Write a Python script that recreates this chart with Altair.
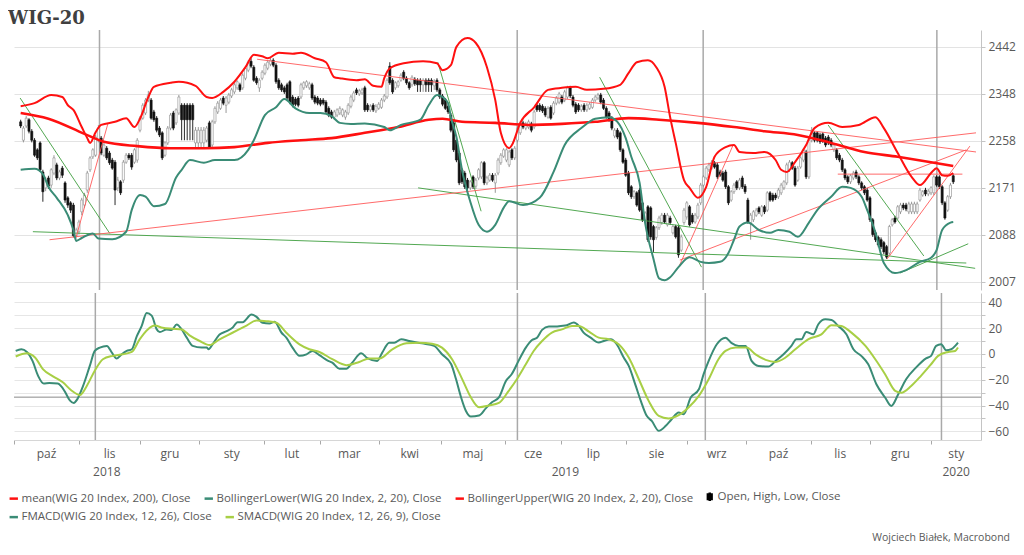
import altair as alt
import pandas as pd

# ---------------- data ----------------
# daily (weekday) candles, first day = 2018-10-01
OPEN = [
    2294,2259,2286,2298,2276,2259,2241,2254,2200,2171,2189,2176,2198,2213,2189,2207,2180,2153,2144,2140,2086,2093,2128,
    2140,2167,2204,2228,2231,2259,2263,2231,2244,2235,2222,2218,2171,2182,2185,2218,2231,2231,2218,2222,2278,2301,
    2311,2336,2336,2313,2301,2282,2273,2231,2254,2282,2311,2292,2311,2326,2326,2326,2326,2326,2254,2254,2254,
    2254,2259,2292,2250,2294,2313,2320,2340,2326,2332,2344,2352,2360,2366,2360,2379,2395,2413,2401,2379,2360,2379,2389,
    2399,2407,2415,2405,2375,2366,2360,2366,2372,2342,2338,2340,2342,2360,2364,2360,2366,2342,2340,2336,
    2336,2332,2320,2313,2303,2307,2311,2307,2303,2311,2324,2336,2356,2348,2350,2360,2326,2317,2326,2315,2320,
    2322,2336,2342,2403,2375,2360,2364,2375,2391,2379,2370,2366,2377,2375,2375,2366,2375,2375,2375,2364,2375,2356,
    2344,2336,2324,2307,2292,2259,2235,2204,2198,2185,2171,2191,2174,2189,2191,2217,2180,2185,2194,2180,2198,2217,2229,
    2222,2213,2241,2226,2259,2273,2292,2282,2284,2290,2284,2326,2326,2324,2320,2303,2322,2311,2330,2332,
    2342,2336,2342,2360,2342,2328,2326,2317,2326,2317,2320,2322,2336,2340,2346,2336,2320,2311,2301,2267,2278,2273,2241,
    2222,2198,2173,2155,2162,2167,2144,2114,2137,2135,2102,2083,2100,2109,2122,2105,2117,2091,2102,2100,2061,2109,
    2119,2137,2122,2110,2119,2144,2176,2189,2204,2207,2217,2213,2200,2198,2200,2173,2149,2164,2182,2171,2189,
    2174,2149,2109,2114,2122,2135,2122,2137,2131,2162,2158,2158,2155,2162,2171,2180,2204,2217,2207,2185,2209,2222,2237,
    2191,2259,2273,2273,2269,2271,2263,2265,2259,2241,2241,2231,2222,2204,2191,2182,2189,2200,2191,2180,2173,
    2167,2153,2114,2091,2083,2079,2074,2067,2056,2105,2117,2117,2128,2140,2140,2128,2128,2128,2128,2149,2158,2167,
    2160,2162,2162,2191,2191,2173,2144,2131,2155,2193,
]
CLOSE = [
    2286,2282,2301,2276,2259,2231,2226,2204,2164,2185,2174,2204,2226,2189,2200,2194,2149,2140,2131,2086,2096,2110,2149,
    2158,2198,2226,2241,2265,2282,2235,2250,2226,2217,2207,2167,2185,2162,2218,2231,2226,2209,2241,2259,2301,2326,
    2336,2346,2301,2298,2278,2269,2226,2254,2282,2307,2282,2317,2342,2298,2298,2298,2298,2298,2278,2278,2278,
    2278,2282,2246,2294,2320,2330,2336,2330,2340,2346,2356,2366,2372,2356,2385,2399,2411,2403,2375,2370,2375,2391,2405,
    2411,2415,2405,2372,2360,2356,2352,2340,2332,2326,2328,2326,2366,2370,2372,2368,2340,2332,2330,2328,
    2330,2313,2307,2303,2313,2317,2320,2317,2313,2326,2342,2350,2350,2354,2356,2317,2317,2324,2317,2324,2328,
    2336,2344,2375,2370,2352,2370,2372,2385,2379,2370,2360,2381,2368,2366,2366,2375,2366,2366,2366,2373,2356,2342,
    2328,2320,2313,2278,2241,2222,2180,2182,2173,2171,2182,2173,2185,2204,2217,2180,2189,2194,2185,2194,2222,2231,2241,
    2241,2237,2226,2244,2282,2292,2284,2290,2294,2278,2313,2317,2317,2315,2307,2320,2301,2330,2340,2348,
    2332,2352,2360,2344,2326,2313,2317,2324,2317,2326,2328,2336,2342,2346,2332,2320,2303,2298,2282,2278,2265,2241,2218,
    2194,2162,2155,2164,2140,2131,2114,2126,2079,2084,2079,2100,2117,2122,2110,2122,2109,2102,2084,2053,2084,2131,
    2144,2105,2110,2122,2140,2176,2191,2207,2213,2218,2209,2191,2194,2185,2173,2144,2164,2176,2171,2185,2173,
    2164,2110,2122,2128,2131,2128,2137,2128,2162,2149,2149,2153,2167,2176,2182,2213,2218,2207,2176,2207,2226,2241,2191,
    2259,2278,2259,2259,2256,2257,2250,2254,2250,2250,2226,2222,2204,2189,2182,2193,2198,2191,2180,2171,2162,
    2149,2114,2088,2079,2070,2067,2058,2049,2102,2114,2110,2137,2140,2135,2133,2142,2142,2142,2142,2167,2164,2160,
    2165,2171,2191,2176,2173,2144,2117,2155,2176,2182,
]
HIGH = [
    2298,2286,2305,2301,2280,2263,2244,2257,2204,2191,2193,2207,2231,2217,2204,2211,2183,2156,2147,2144,2100,2114,2153,
    2162,2202,2229,2244,2269,2288,2267,2254,2248,2239,2226,2222,2191,2185,2222,2235,2235,2235,2244,2263,2305,2330,
    2340,2354,2340,2317,2305,2286,2276,2257,2286,2311,2315,2320,2346,2330,2330,2330,2330,2330,2284,2284,2284,
    2284,2286,2296,2298,2324,2334,2340,2344,2344,2350,2360,2370,2375,2370,2389,2403,2415,2419,2405,2383,2379,2395,2409,
    2415,2421,2419,2409,2379,2370,2364,2370,2375,2346,2342,2344,2370,2373,2375,2372,2370,2346,2344,2340,
    2340,2336,2324,2317,2317,2320,2324,2320,2317,2330,2346,2354,2360,2358,2360,2364,2330,2328,2330,2328,2332,
    2340,2348,2379,2411,2379,2373,2375,2389,2395,2383,2373,2385,2381,2379,2379,2379,2379,2379,2379,2377,2379,2360,
    2348,2340,2328,2311,2296,2263,2239,2207,2202,2189,2185,2194,2189,2207,2220,2220,2193,2198,2198,2198,2226,2235,2244,
    2244,2241,2244,2248,2286,2296,2296,2294,2298,2294,2317,2330,2330,2328,2324,2324,2326,2334,2344,2352,
    2346,2356,2364,2364,2346,2332,2330,2328,2330,2330,2332,2340,2346,2350,2350,2340,2324,2315,2305,2282,2282,2276,2244,
    2226,2202,2176,2167,2165,2171,2147,2129,2140,2138,2105,2103,2121,2126,2126,2126,2121,2105,2105,2103,2088,2135,
    2147,2140,2126,2126,2144,2180,2194,2211,2217,2222,2220,2217,2204,2202,2204,2176,2167,2180,2185,2189,2193,
    2178,2153,2126,2131,2135,2138,2140,2140,2165,2165,2162,2162,2171,2180,2185,2217,2222,2220,2211,2211,2229,2244,2241,
    2263,2284,2276,2276,2273,2274,2267,2269,2263,2254,2244,2235,2226,2207,2194,2196,2202,2204,2194,2183,2176,
    2171,2156,2117,2095,2086,2083,2077,2070,2105,2117,2121,2140,2144,2144,2144,2146,2146,2146,2146,2171,2167,2171,
    2169,2174,2194,2194,2194,2176,2147,2158,2180,2196,
]
LOW = [
    2282,2255,2282,2272,2255,2228,2222,2200,2146,2165,2169,2171,2194,2185,2185,2189,2144,2135,2126,2083,2081,2088,2122,
    2135,2162,2200,2224,2228,2255,2231,2228,2222,2213,2204,2140,2165,2158,2180,2215,2222,2204,2215,2217,2274,2298,
    2307,2332,2298,2294,2274,2265,2222,2228,2250,2278,2278,2288,2307,2259,2259,2259,2259,2259,2246,2246,2246,
    2246,2255,2243,2246,2290,2309,2317,2326,2311,2328,2340,2348,2356,2352,2356,2375,2391,2399,2372,2366,2352,2375,2385,
    2395,2403,2401,2368,2356,2352,2348,2336,2328,2322,2324,2322,2338,2356,2360,2356,2336,2328,2326,2324,
    2326,2309,2303,2300,2298,2303,2307,2303,2298,2307,2320,2332,2346,2344,2346,2313,2313,2313,2313,2311,2317,
    2319,2332,2338,2366,2348,2356,2360,2372,2375,2366,2356,2362,2364,2352,2352,2352,2352,2352,2352,2356,2352,2338,
    2324,2317,2309,2274,2237,2218,2176,2178,2169,2165,2167,2169,2169,2185,2187,2176,2176,2182,2182,2162,2194,2213,2226,
    2218,2209,2222,2222,2255,2269,2280,2278,2280,2274,2280,2313,2313,2311,2303,2300,2298,2307,2326,2328,
    2328,2332,2338,2340,2322,2309,2313,2313,2313,2313,2317,2319,2332,2336,2328,2317,2300,2294,2278,2263,2261,2237,2215,
    2191,2158,2151,2151,2137,2128,2110,2110,2075,2079,2058,2079,2096,2105,2107,2102,2105,2088,2081,2048,2058,2105,
    2114,2102,2107,2107,2115,2140,2173,2185,2200,2204,2206,2187,2191,2182,2169,2140,2146,2160,2167,2167,2169,
    2160,2107,2079,2110,2119,2124,2119,2124,2128,2146,2146,2149,2151,2158,2167,2176,2200,2204,2173,2182,2206,2218,2187,
    2187,2255,2255,2255,2252,2254,2246,2250,2246,2237,2222,2218,2200,2185,2178,2178,2185,2187,2176,2167,2158,
    2146,2110,2084,2075,2066,2063,2054,2046,2053,2102,2107,2114,2124,2131,2129,2124,2124,2124,2124,2146,2155,2156,
    2156,2158,2158,2173,2169,2140,2114,2128,2151,2178,
]

# indicator lines (weekday index, value)
MEAN_DAY = [0, 10, 23, 30, 42, 54, 66, 77, 89, 101, 112, 124, 136, 147, 152, 159, 171, 183, 195, 207,
            219, 230, 244, 257, 268, 280, 292, 304, 316, 328, 336]
MEAN_VAL = [2311, 2300, 2271, 2256, 2248, 2244, 2244, 2246, 2254, 2259, 2263, 2273, 2284, 2298, 2300, 2294,
            2292, 2288, 2290, 2294, 2301, 2298, 2292, 2284, 2276, 2269, 2254, 2237, 2228, 2218, 2211]

UPPER_DAY = [0, 5, 11, 15, 17, 19, 22, 24, 25, 27, 29, 34, 38, 41, 43, 46, 48, 54, 57, 63, 67, 69, 73, 77,
             81, 84, 87, 89, 93, 98, 101, 106, 110, 113, 115, 121, 124, 127, 130, 131, 133, 138, 145, 150,
             152, 155, 157, 161, 164, 168, 171, 173, 176, 177, 180, 185, 190, 195, 200, 204, 210, 216, 219,
             222, 226, 229, 232, 234, 236, 239, 241, 244, 247, 250, 254, 257, 259, 264, 268, 272, 274, 276,
             279, 283, 286, 291, 296, 302, 308, 311, 316, 321, 324, 328, 330, 332, 334, 336]
UPPER_VAL = [2324, 2330, 2346, 2342, 2326, 2317, 2284, 2263, 2254, 2274, 2288, 2294, 2301, 2284, 2300, 2342,
             2362, 2370, 2372, 2364, 2342, 2340, 2352, 2372, 2401, 2426, 2423, 2419, 2430, 2428, 2430, 2419,
             2411, 2381, 2379, 2375, 2377, 2364, 2362, 2379, 2399, 2409, 2413, 2409, 2395, 2405, 2442, 2460,
             2450, 2401, 2336, 2273, 2244, 2250, 2292, 2322, 2356, 2360, 2362, 2356, 2358, 2366, 2389, 2411,
             2415, 2401, 2362, 2303, 2254, 2185, 2171, 2153, 2173, 2228, 2246, 2250, 2237, 2235, 2237, 2222,
             2204, 2200, 2218, 2250, 2282, 2292, 2284, 2288, 2303, 2282, 2235, 2191, 2176, 2198, 2207, 2194,
             2193, 2198]

LOWER_DAY = [0, 5, 8, 10, 13, 17, 19, 20, 22, 26, 28, 33, 38, 40, 43, 45, 48, 52, 56, 58, 61, 66, 70, 77,
             82, 84, 88, 92, 95, 99, 104, 108, 112, 115, 119, 124, 131, 133, 137, 144, 147, 150, 152, 154,
             155, 157, 159, 162, 165, 168, 171, 174, 176, 181, 187, 192, 196, 202, 207, 212, 215, 218, 220,
             223, 225, 228, 230, 232, 234, 237, 241, 245, 248, 252, 255, 257, 259, 262, 266, 270, 273, 277,
             280, 284, 287, 292, 296, 299, 303, 305, 308, 311, 315, 319, 324, 328, 330, 332, 335, 336]
LOWER_VAL = [2204, 2206, 2196, 2173, 2153, 2122, 2096, 2077, 2082, 2090, 2081, 2080, 2093, 2131, 2158, 2155,
             2138, 2142, 2190, 2204, 2222, 2217, 2222, 2222, 2241, 2259, 2307, 2322, 2338, 2320, 2311, 2311,
             2305, 2292, 2290, 2291, 2284, 2278, 2288, 2298, 2326, 2346, 2342, 2330, 2303, 2265, 2204, 2146,
             2105, 2093, 2105, 2135, 2147, 2140, 2153, 2200, 2250, 2282, 2300, 2303, 2294, 2263, 2228, 2180,
             2108, 2046, 2013, 2010, 2015, 2032, 2049, 2041, 2039, 2041, 2056, 2079, 2102, 2109, 2096, 2091,
             2096, 2093, 2084, 2109, 2131, 2155, 2173, 2171, 2155, 2131, 2091, 2039, 2022, 2027, 2041, 2048,
             2061, 2096, 2109, 2110]

# trend lines: start day, start value, end day, end value
RED_D1 = [10.4, 85.2, 20.0, 237.1, 237.5, 312.2, 294.4]
RED_V1 = [2079, 2417, 2084, 2032, 2044, 2046, 2196]
RED_D2 = [344.2, 344.2, 31.4, 256.7, 340.7, 342.0, 339.3]
RED_V2 = [2273, 2237, 2290, 2250, 2241, 2248, 2196]
GRN_D1 = [-0.2, 4.4, 143.2, 150.3, 208.6, 290.9, 316.8]
GRN_V1 = [2340, 2093, 2171, 2411, 2381, 2288, 2022]
GRN_D2 = [32.1, 340.7, 343.9, 165.9, 245.3, 325.4, 341.4]
GRN_V2 = [2090, 2039, 2030, 2129, 2032, 2051, 2072]

VLINE_DAY = [28.4, 178.9, 245.9, 330.1]

FMACD_DAY = [0, 2, 4, 6, 8, 10, 12, 15, 17.5, 19.3, 20.7, 22, 24, 26.4, 28.2, 30, 32.5, 34.3, 36, 37.8, 39.6,
             41.4, 43.2, 44.9, 46.7, 48.5, 50.3, 51.4, 53.8, 55.6, 57.4, 59.2, 61, 63.1, 66.3, 68.1, 68.8, 70.2,
             72.7, 75.2, 77.3, 79.1, 80.9, 84.1, 85.9, 88, 90.5, 92.3, 94.8, 96.5, 98.7, 101.2, 103.7, 105.8,
             108.3, 111.1, 112.9, 115.4, 117.9, 120, 123.2, 125.4, 128.9, 130.7, 133.2, 135, 137.5, 140.3,
             144.9, 149.2, 152, 155.3, 157, 158.8, 160.5, 162.3, 165.2, 167.7, 169.8, 172.3, 174.8, 176.9,
             179.4, 181.9, 184.1, 185.9, 187.7, 190.1, 192.6, 194.4, 196.5, 199, 200.8, 202.5, 205, 207.9,
             209.7, 212.2, 214.3, 216.8, 218.6, 221.1, 222.9, 225, 226.8, 229.3, 231.8, 233.9, 236.4, 238.2,
             240.7, 243.6, 245.3, 247.1, 250, 253.1, 255.3, 257.8, 260.3, 262.4, 264.9, 268.4, 271, 273.8,
             276.6, 278.4, 280.2, 281.9, 284.4, 286.2, 288.7, 290.9, 293.3, 296.2, 298.7, 301.5, 304, 306.9,
             310, 312.2, 314.7, 317.5, 321, 324.6, 326.4, 328.2, 330, 331.8, 333.6, 335, 336]
FMACD_VAL = [2.3, 3.6, 1.5, -5.4, -17, -23, -22.6, -23, -29, -36, -38, -35, -25, -9.5, 2.3, 4.9, 6.2, 1, -3.6,
             -0.3, 2.3, 3.6, 13.8, 21.5, 31.8, 29.7, 19, 16.9, 19, 18.5, 22.8, 19, 12.6, 6.2, 4.9, 4.9, 3.6, 7.4,
             15, 17.6, 20.2, 24.6, 24.6, 30.5, 28.7, 24.1, 23.6, 24.9, 16.4, 12.6, 4.9, -1.5, -0.3, 2.3, -1, -5,
             -6.8, -11.4, -11.4, -6.8, 0.5, -3.3, -5.4, 1, 8.7, 8.7, 11.3, 10, 8.2, 6.2, -0.3, -8, -19.5, -33.6,
             -44, -48.5, -47.7, -42, -37.4, -33.7, -21, -15.6, -5, 4.9, 10.8, 12.6, 18.6, 21.2, 21.2, 21.7, 22.2,
             24.3, 21.7, 16.5, 12.6, 8.8, 10, 11.4, 7.5, -2.8, -9.3, -24.8, -36.4, -48, -51.9, -59.6, -55.7,
             -50.6, -45.4, -46.7, -33.8, -27.4, -15.7, -5.4, 7.5, 12.6, 8.3, 6.2, 6.2, -5.4, -9.3, -9.8, -5.4,
             -0.3, 6.2, 11.4, 11.4, 17, 15.2, 23, 26.8, 26.3, 21.7, 15.2, 3.6, -1.5, -8, -23.5, -33.8, -40.3,
             -31.2, -19.6, -10.6, -3.4, -1.5, 6.2, 7.5, 2.8, 3.6, 6.2, 8.8]
SMACD_DAY = [0, 4, 6.9, 9.7, 13.3, 16.8, 20, 22.9, 25.4, 28.2, 31.1, 34.6, 38.2, 41.4, 44.2, 47.1, 49.6, 52.4,
             56, 59.2, 62, 65.6, 69.1, 72.7, 77.3, 82.3, 85.9, 89.4, 93, 96.5, 101.2, 104.7, 108.3, 112.9, 117.9,
             122.5, 126.1, 129.7, 134.3, 139.3, 143.9, 148.5, 152, 155.6, 159.2, 162.3, 165.2, 168.7, 172.3,
             175.8, 178.7, 181.9, 184.7, 187.7, 191.2, 194.8, 198.4, 200.8, 204.4, 207.9, 211.4, 215, 218.6,
             222.2, 225.7, 229.3, 232.8, 236.4, 239.9, 243.6, 247.1, 250.6, 253.1, 256.7, 260.6, 263.8, 267.4,
             271, 274.5, 278, 282.7, 287.3, 290.9, 294.4, 298, 303, 306.5, 310, 313.6, 315.8, 319.3, 322.8,
             326.4, 328.9, 332.5, 335, 336]
SMACD_VAL = [-2, 0.5, -2.8, -11.8, -17.4, -22, -28.5, -31.8, -24.6, -13, -4.1, -1.5, -0.3, 1.5, 11.3, 19, 22,
             20.2, 19.5, 19, 14.4, 10, 6.9, 11.3, 16.4, 22, 25.9, 25.4, 24.1, 16.4, 7.4, 3.6, 1.5, -4.1, -8.7,
             -6.2, -3.6, -3.6, 3.6, 8.2, 8.7, 7.9, 4.9, -4.1, -19.5, -33.6, -41.3, -40, -38, -28.6, -19.6, -8,
             2.3, 10, 16.5, 19, 21.7, 21.7, 17.3, 12.6, 11.4, 7.5, -2.8, -19.6, -36.4, -48, -50, -47.5, -41.5,
             -32.5, -19.6, -4.1, 2.3, 4.9, 4.9, -0.3, -4.6, -6.2, -2.8, 3.6, 11.4, 15.2, 22.2, 21.7, 16.5, 6.2,
             -4.1, -15.7, -28.6, -30, -24.8, -17, -8, -1.5, 1.5, 2.3, 4.9]
MACD_REF = -33.5

Y_TICKS = [2007, 2088, 2171, 2258, 2348, 2442]
MACD_TICKS = [-60, -50, -40, -30, -20, -10, 0, 10, 20, 30, 40]
MONTH_START = [0, 23, 45, 66, 89, 109, 130, 152, 175, 195, 218, 240, 261, 284, 305, 327]
MONTH_NAMES = ["paź", "lis", "gru", "sty", "lut", "mar", "kwi", "maj", "cze", "lip", "sie", "wrz",
               "paź", "lis", "gru", "sty"]
YEAR_NAMES = ["2018", "2019", "2020"]
YEAR_FIRST_MONTH = [0, 3, 15]

LEG_A = ["mean(WIG 20 Index, 200), Close", "BollingerLower(WIG 20 Index, 2, 20), Close",
         "BollingerUpper(WIG 20 Index, 2, 20), Close", "Open, High, Low, Close"]
LEG_B = ["FMACD(WIG 20 Index, 12, 26), Close", "SMACD(WIG 20 Index, 12, 26, 9), Close"]

# ---------------- styling ----------------
RED = "#ff1010"
TEAL = "#3a8c76"
LIME = "#a8cf45"
THIN_RED = "#ff5a5a"
THIN_GRN = "#3f9f3f"
TXT = "#595959"
FONT = "Open Sans"
W, H_UP, H_LOW = 967, 260, 147
X_DOMAIN = [-0.6, 344.2]

XS = alt.Scale(domain=X_DOMAIN, nice=False, zero=False)
YS = alt.Scale(type="log", domain=[1993.6, 2476.7], nice=False)
MS = alt.Scale(domain=[-66.7, 47.2], nice=False, zero=False)

Y_AX = alt.Axis(orient="right", values=Y_TICKS, format="d", grid=True, gridColor="#e3e3e3",
                domainColor="#c4c4c4", tickColor="#c4c4c4", tickSize=4, labelPadding=3,
                labelFont=FONT, labelFontSize=12, labelColor=TXT, title=None)
M_AX = alt.Axis(orient="right", values=MACD_TICKS, labelExpr="datum.value % 20 == 0 ? datum.label : ''",
                grid=True, gridColor="#e6e6e6", domainColor="#c4c4c4", tickColor="#c4c4c4", tickSize=4,
                labelPadding=3, labelFont=FONT, labelFontSize=12, labelColor=TXT, title=None)

edges = [s - 0.5 for s in MONTH_START] + [X_DOMAIN[1]]
month_mid = [(edges[k] + edges[k + 1]) / 2 for k in range(len(MONTH_NAMES))]
year_edges = [edges[m] for m in YEAR_FIRST_MONTH] + [X_DOMAIN[1]]
year_mid = [(year_edges[k] + year_edges[k + 1]) / 2 for k in range(len(YEAR_NAMES))]

X_LOW_AX = alt.Axis(values=edges[:-1], labels=False, ticks=True, tickSize=4, tickColor="#a8a8a8",
                    domain=True, domainColor="#d6d6d6", grid=False, title=None)

xn = alt.X("day:Q", scale=XS, axis=None)
xl = alt.X("day:Q", scale=XS, axis=X_LOW_AX)

candles = pd.DataFrame({"day": list(range(len(CLOSE))), "open": OPEN, "high": HIGH,
                        "low": LOW, "close": CLOSE})
cbase = alt.Chart(candles).transform_calculate(up="datum.close >= datum.open")

vlines = pd.DataFrame({"day": VLINE_DAY})


def line_df(days, vals):
    return pd.DataFrame({"day": days, "v": vals})


def seg_df(d1, v1, d2, v2):
    rows = []
    for k in range(len(d1)):
        rows.append({"seg": k, "day": d1[k], "v": v1[k]})
        rows.append({"seg": k, "day": d2[k], "v": v2[k]})
    return pd.DataFrame(rows)


up_vl = alt.Chart(vlines).mark_rule(color="#a9a9a9", strokeWidth=1.5).encode(x=xn)
wicks = cbase.mark_rule(strokeWidth=0.9).encode(
    x=xn, y=alt.Y("low:Q", scale=YS, axis=Y_AX), y2="high:Q",
    color=alt.condition("datum.up", alt.value("#8c8c8c"), alt.value("#111111")))
bodies = cbase.mark_bar(size=2.1, strokeWidth=0.6).encode(
    x=xn, y=alt.Y("open:Q", scale=YS, axis=Y_AX), y2="close:Q",
    fill=alt.condition("datum.up", alt.value("#ffffff"), alt.value("#111111")),
    stroke=alt.condition("datum.up", alt.value("#8c8c8c"), alt.value("#111111")))
red_tr = alt.Chart(seg_df(RED_D1, RED_V1, RED_D2, RED_V2)).mark_line(
    color=THIN_RED, strokeWidth=1, opacity=0.9).encode(
    x=xn, y=alt.Y("v:Q", scale=YS, axis=Y_AX), detail="seg:N")
grn_tr = alt.Chart(seg_df(GRN_D1, GRN_V1, GRN_D2, GRN_V2)).mark_line(
    color=THIN_GRN, strokeWidth=1, opacity=0.9).encode(
    x=xn, y=alt.Y("v:Q", scale=YS, axis=Y_AX), detail="seg:N")
mean_l = alt.Chart(line_df(MEAN_DAY, MEAN_VAL)).mark_line(
    color=RED, strokeWidth=2.6, interpolate="monotone").encode(x=xn, y=alt.Y("v:Q", scale=YS, axis=Y_AX))
upper_l = alt.Chart(line_df(UPPER_DAY, UPPER_VAL)).mark_line(
    color=RED, strokeWidth=2, interpolate="monotone").encode(x=xn, y=alt.Y("v:Q", scale=YS, axis=Y_AX))
lower_l = alt.Chart(line_df(LOWER_DAY, LOWER_VAL)).mark_line(
    color=TEAL, strokeWidth=2, interpolate="monotone").encode(x=xn, y=alt.Y("v:Q", scale=YS, axis=Y_AX))

upper = alt.layer(up_vl, wicks, bodies, grn_tr, red_tr, mean_l, upper_l, lower_l).properties(
    width=W, height=H_UP)

# lower panel
low_vl = alt.Chart(vlines).mark_rule(color="#a9a9a9", strokeWidth=1.5).encode(x=xl)
ref = alt.Chart(pd.DataFrame({"v": [MACD_REF]})).mark_rule(color="#8a8a8a", strokeWidth=1).encode(
    y=alt.Y("v:Q", scale=MS, axis=M_AX))
fm = alt.Chart(line_df(FMACD_DAY, FMACD_VAL)).mark_line(
    color=TEAL, strokeWidth=2, interpolate="monotone").encode(x=xl, y=alt.Y("v:Q", scale=MS, axis=M_AX))
sm = alt.Chart(line_df(SMACD_DAY, SMACD_VAL)).mark_line(
    color=LIME, strokeWidth=2, interpolate="monotone").encode(x=xl, y=alt.Y("v:Q", scale=MS, axis=M_AX))
months = alt.Chart(pd.DataFrame({"day": month_mid, "label": MONTH_NAMES})).mark_text(
    font=FONT, fontSize=12, color=TXT, baseline="middle").encode(x=xl, y=alt.value(H_LOW + 14), text="label:N")
years = alt.Chart(pd.DataFrame({"day": year_mid, "label": YEAR_NAMES})).mark_text(
    font=FONT, fontSize=12, color=TXT, baseline="middle").encode(x=xl, y=alt.value(H_LOW + 32), text="label:N")

LEG_COMMON = dict(orient="none", direction="horizontal", title=None, labelFont=FONT, labelFontSize=11.5,
                  labelColor=TXT, symbolStrokeWidth=2.5, symbolSize=70, symbolOpacity=1,
                  columnPadding=8, labelOffset=2, padding=0, labelLimit=400)
legA = alt.Legend(legendX=-6, legendY=461, **LEG_COMMON)
legB = alt.Legend(legendX=-6, legendY=481, symbolType="stroke", **LEG_COMMON)
CANDLE_ICON = "M0,-1L0,1M-0.45,-0.55L0.45,-0.55L0.45,0.55L-0.45,0.55Z"

dA = pd.DataFrame({"series": LEG_A, "day": [0] * 4, "v": [0] * 4})
dB = pd.DataFrame({"series": LEG_B, "day": [0] * 2, "v": [0] * 2})
legend_a = alt.Chart(dA).mark_point(opacity=0, filled=False).encode(
    x=xl, y=alt.Y("v:Q", scale=MS, axis=M_AX),
    stroke=alt.Stroke("series:N", scale=alt.Scale(domain=LEG_A, range=[RED, TEAL, RED, "#000000"]), legend=legA),
    shape=alt.Shape("series:N", scale=alt.Scale(domain=LEG_A, range=["stroke", "stroke", "stroke", CANDLE_ICON]),
                    legend=legA))
legend_b = alt.Chart(dB).mark_point(opacity=0, filled=False).encode(
    x=xl, y=alt.Y("v:Q", scale=MS, axis=M_AX),
    color=alt.Color("series:N", scale=alt.Scale(domain=LEG_B, range=[TEAL, LIME]), legend=legB))
credit = alt.Chart(pd.DataFrame({"t": ["Wojciech Białek, Macrobond"]})).mark_text(
    font=FONT, fontSize=10.5, color=TXT, align="right", baseline="middle").encode(
    x=alt.value(996), y=alt.value(H_LOW + 98), text="t:N")

lower = alt.layer(low_vl, ref, fm, sm, months, years, legend_a, legend_b, credit).properties(
    width=W, height=H_LOW)

chart = alt.vconcat(upper, lower, spacing=1).properties(
    title=alt.TitleParams("WIG-20", anchor="start", font="DejaVu Serif", fontSize=18, fontWeight="bold",
                          color="#404040", offset=1),
    padding={"left": 0, "top": 2, "right": 0, "bottom": 0},
).configure_view(strokeWidth=0)

chart.save("out.html", embed_options={"renderer": "svg", "actions": False})
